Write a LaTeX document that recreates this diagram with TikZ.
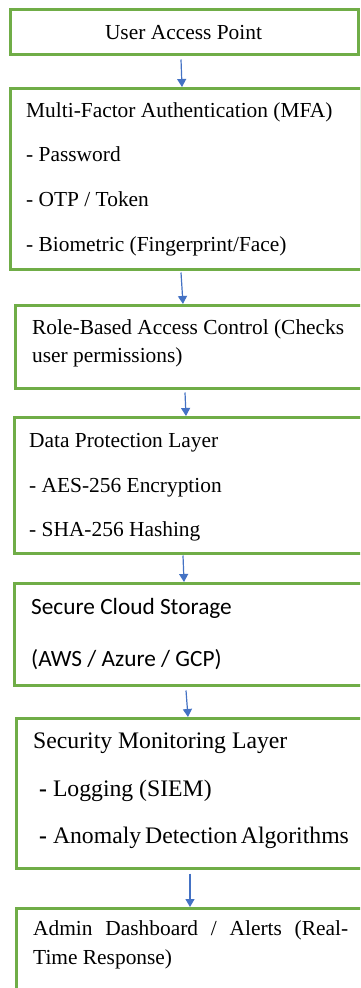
\documentclass[tikz,border=0pt]{standalone}
\usepackage{fontspec}
\setmainfont{Liberation Serif}
\newfontfamily\carlitofont{Carlito}
\usetikzlibrary{calc,arrows.meta}
\definecolor{boxgreen}{HTML}{70AD47}
\definecolor{arrblue}{HTML}{4472C4}
\tikzset{
  box/.style={draw=boxgreen, line width=2.5pt, rectangle, inner sep=0pt, anchor=north west, fill=white},
  txt/.style={anchor=base west, inner sep=0pt, font=\fontsize{21.4}{27}\selectfont},
  txtbig/.style={anchor=base west, inner sep=0pt, font=\fontsize{23.7}{29}\selectfont},
  txtsans/.style={anchor=base west, inner sep=0pt, font=\carlitofont\fontsize{23.3}{29}\selectfont},
  arr/.style={draw=arrblue, line width=1.2pt, -{Triangle[length=8pt,width=9pt]}}
}
\begin{document}
\begin{tikzpicture}[x=1pt,y=-1pt]
\clip (0,0) rectangle (360,988);
\fill[white] (0,0) rectangle (360,988);
% boxes
\node[box, minimum width=348pt, minimum height=45pt] (b1) at (9,8) {};
\node[box, minimum width=351pt, minimum height=181pt] (b2) at (9,87) {};
\node[box, minimum width=352pt, minimum height=83pt] (b3) at (14,304) {};
\node[box, minimum width=352pt, minimum height=136pt] (b4) at (13,416) {};
\node[box, minimum width=352pt, minimum height=102pt] (b5) at (13,582) {};
\node[box, minimum width=352pt, minimum height=150pt] (b6) at (15,717) {};
\node[box, minimum width=352pt, minimum height=100pt] (b7) at (15,907) {};
% texts
\node[anchor=base, inner sep=0pt, font=\fontsize{21.4}{27}\selectfont] (t1) at (183.5,39) {User Access Point};
\node[txt] (t2a) at (26,117) {Multi-Factor Authentication (MFA)};
\node[txt] (t2b) at (26,161) {- Password};
\node[txt] (t2c) at (26,206) {- OTP / Token};
\node[txt] (t2d) at (26,251) {- Biometric (Fingerprint/Face)};
\node[txt] (t3a) at (32,334) {Role-Based Access Control (Checks};
\node[txt] (t3b) at (32,362) {user permissions)};
\node[txt] (t4a) at (29,447) {Data Protection Layer};
\node[txt] (t4b) at (29,492) {- AES-256 Encryption};
\node[txt] (t4c) at (29,536) {- SHA-256 Hashing};
\node[txtsans] (t5a) at (31,614) {Secure Cloud Storage};
\node[txtsans] (t5b) at (31,666) {(AWS / Azure / GCP)};
\node[txtbig] (t6a) at (33,748) {Security Monitoring Layer};
\node[txtbig] (t6b) at (39,796) {\textbf{-} Logging (SIEM)};
\node[txtbig] (t6c) at (39,843) {\textbf{-} Anomaly\hspace{-0.08em} Detection\hspace{-0.1em} Algorithms};
\node[txt] (t7a) at (33,935) {\makebox[315pt][s]{Admin Dashboard / Alerts (Real-}};
\node[txt] (t7b) at (33,964) {Time Response)};
% arrows
\draw[arr] ($(b1.south west)+(172,4)$) -- ($(b2.north west)+(173,0)$);
\draw[arr] ($(b2.south west)+(172,2)$) -- ($(b3.north west)+(169,0)$);
\draw[arr] ($(b3.south west)+(171,3)$) -- ($(b4.north west)+(173,0)$);
\draw[arr] ($(b4.south west)+(170,1)$) -- ($(b5.north west)+(171,0)$);
\draw[arr] ($(b5.south west)+(173,4)$) -- ($(b6.north west)+(173,0)$);
\draw[arr] ($(b6.south west)+(175,4)$) -- ($(b7.north west)+(175,0)$);
\end{tikzpicture}
\end{document}
